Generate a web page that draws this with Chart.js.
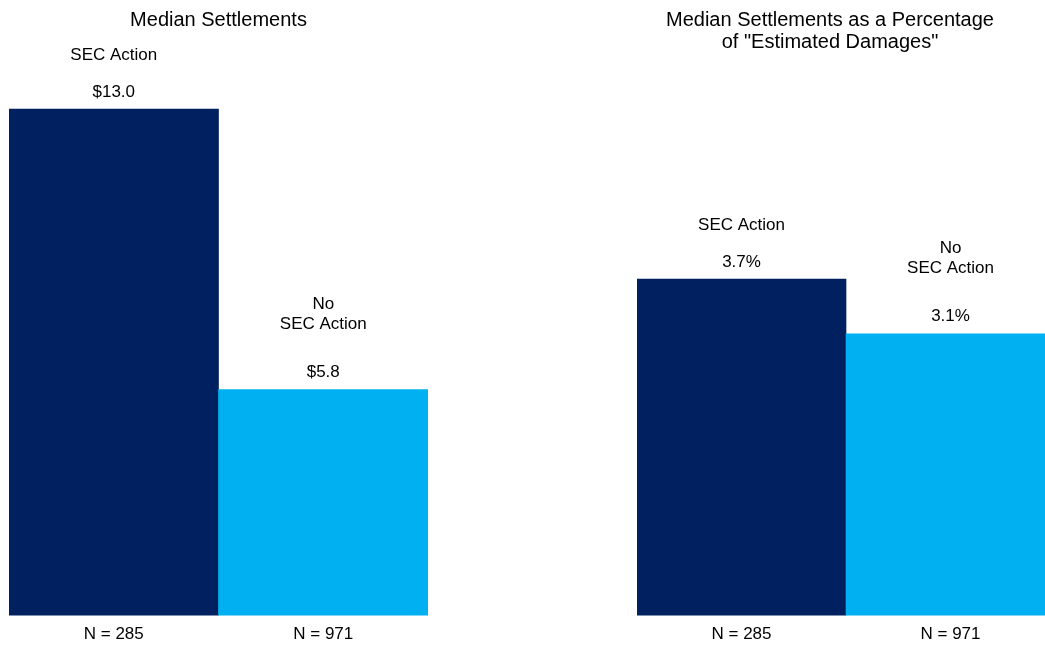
<!DOCTYPE html>
<html>
<head>
<meta charset="utf-8">
<script src="https://cdn.jsdelivr.net/npm/chart.js@4.4.1/dist/chart.umd.min.js"></script>
<style>
    html, body { margin: 0; padding: 0; background: #ffffff; }
    body { width: 1045px; height: 645px; position: relative; overflow: hidden; }
    .panel { position: absolute; top: 0; height: 645px; }
    #leftPanel { left: 0; width: 437px; }
    /* right bar runs off the page edge in the original, so the panel is wider than the window */
    #rightPanel { left: 605px; width: 450px; }
</style>
</head>
<body>
<div class="panel" id="leftPanel"><canvas id="canvasLeft"></canvas></div>
<div class="panel" id="rightPanel"><canvas id="canvasRight"></canvas></div>
<script>
// Data
const groupLabels = ['N = 285', 'N = 971'];
const seriesNames = [['SEC Action'], ['No', 'SEC Action']];
const medianSettlements = [13.0, 5.8];          // $ millions
const medianPctDamages = [3.7, 3.1];            // % of "Estimated Damages"
const barColors = ['#002060', '#00B0F0'];

const FONT = '"Liberation Sans", Arial, sans-serif';

// Draws the value label and the series name above each bar
const barCallouts = {
    id: 'barCallouts',
    afterDatasetsDraw(chart, args, opts) {
        const { ctx } = chart;
        const meta = chart.getDatasetMeta(0);
        ctx.save();
        ctx.fillStyle = '#000000';
        ctx.font = `17px ${FONT}`;
        ctx.textAlign = 'center';
        ctx.textBaseline = 'middle';
        meta.data.forEach((bar, i) => {
            const value = chart.data.datasets[0].data[i];
            const valueY = bar.y - 17;
            ctx.fillText(opts.format(value), bar.x, valueY);

            const lines = seriesNames[i];
            // two-line names sit a bit higher than one-line ones
            let y = valueY - (lines.length > 1 ? 48 : 37);
            for (let k = lines.length - 1; k >= 0; k--) {
                ctx.fillText(lines[k], bar.x, y);
                y -= 20;
            }
        });
        ctx.restore();
    }
};

function makeChart(canvasId, values, yMax, title, titlePadBottom, padLeft, padRight, yAxisWidth, format) {
    const ctx = document.getElementById(canvasId).getContext('2d');
    return new Chart(ctx, {
        type: 'bar',
        data: {
            labels: groupLabels,
            datasets: [{
                data: values,
                backgroundColor: barColors,
                borderWidth: 0,
                barPercentage: 1.0,
                categoryPercentage: 1.0
            }]
        },
        options: {
            responsive: true,
            maintainAspectRatio: false,
            animation: false,
            layout: { padding: { top: 0, bottom: -9, left: padLeft, right: padRight } },
            plugins: {
                legend: { display: false },
                tooltip: { enabled: false },
                title: {
                    display: true,
                    text: title,
                    color: '#000000',
                    font: { family: FONT, size: 20, weight: 'normal', lineHeight: 1.1 },
                    padding: { top: 9, bottom: titlePadBottom }
                },
                barCallouts: { format }
            },
            scales: {
                x: {
                    grid: { display: false, drawTicks: false, tickLength: 0 },
                    border: { display: false },
                    ticks: { color: '#000000', padding: 9, font: { family: FONT, size: 17 } }
                },
                y: {
                    display: yAxisWidth > 0,
                    min: 0,
                    max: yMax,
                    grid: { display: false },
                    border: { display: false },
                    ticks: { display: false },
                    afterFit: (scale) => { scale.width = yAxisWidth; }
                }
            }
        },
        plugins: [barCallouts]
    });
}

makeChart('canvasLeft', medianSettlements, 14, 'Median Settlements', 39, 9, 9, 0,
    v => `$${v.toFixed(1)}`);
makeChart('canvasRight', medianPctDamages, 6,
    ['Median Settlements as a Percentage', 'of "Estimated Damages"'], 17, 0, 0, 32,
    v => `${v.toFixed(1)}%`);
</script>
</body>
</html>
